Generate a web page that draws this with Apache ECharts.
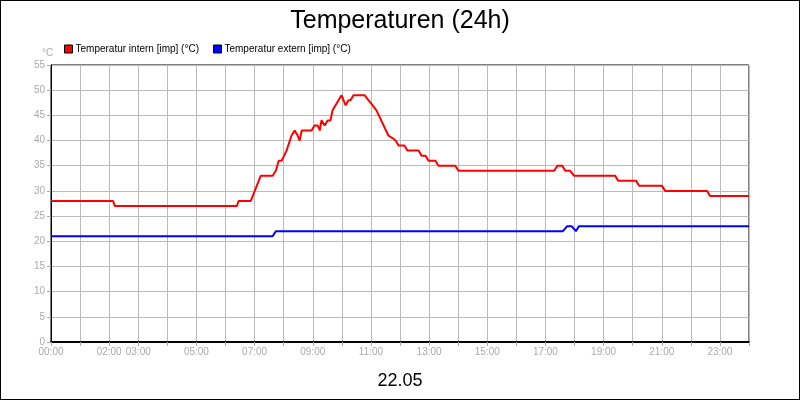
<!DOCTYPE html><html><head><meta charset="utf-8">
<script src="https://cdn.jsdelivr.net/npm/echarts@6/dist/echarts.min.js"></script>
<style>html,body{margin:0;padding:0}#c{width:800px;height:400px;box-sizing:border-box;border:1px solid #000}</style></head><body><div id="c"></div><script>
const hourLabels=[0,2,3,5,7,9,11,13,15,17,19,21,23];
const intern=[[0,28],[2.13,28],[2.2,27],[6.39,27],[6.45,28],[6.87,28],[7.21,33],[7.62,33],[7.73,34],[7.83,36],[7.93,36],[8.1,38],[8.27,41],[8.38,42],[8.48,41],[8.55,40],[8.62,42],[8.96,42],[9.06,43],[9.17,43],[9.24,42],[9.3,44],[9.41,43],[9.51,44],[9.61,44],[9.68,46],[9.99,49],[10.13,47],[10.23,48],[10.3,48],[10.4,49],[10.78,49],[10.92,48],[11.06,47],[11.19,46],[11.6,41],[11.74,40.5],[11.85,40],[11.95,39],[12.15,39],[12.26,38],[12.64,38],[12.74,37],[12.88,37],[12.98,36],[13.22,36],[13.32,35],[13.9,35],[14.01,34],[17.3,34],[17.41,35],[17.58,35],[17.68,34],[17.85,34],[17.99,33],[19.4,33],[19.5,32],[20.12,32],[20.22,31],[21.01,31],[21.12,30],[22.56,30],[22.66,29],[24,29]];
const extern=[[0,21],[7.62,21],[7.73,22],[17.6,22],[17.75,23],[17.9,23],[18.05,22],[18.15,23],[24,23]];
const c=echarts.init(document.getElementById('c'));
const gray='#aaa';
c.setOption({
 animation:false,
 title:[{text:'Temperaturen (24h)',left:'center',top:3,textStyle:{fontFamily:'Liberation Sans',fontSize:25,fontWeight:'normal',color:'#000'}},
  {text:'22.05',left:'center',top:366,textStyle:{fontFamily:'Liberation Sans',fontSize:18,fontWeight:'normal',color:'#000'}},
  {text:'°C',left:36,top:42,textStyle:{fontFamily:'Liberation Sans',fontSize:10,fontWeight:'normal',color:gray}}],
 legend:{left:58,top:38,itemWidth:8,itemHeight:8,itemGap:14,icon:'rect',textStyle:{fontFamily:'Liberation Sans',fontSize:10,color:'#000',padding:[0,0,0,-2]},
  data:[{name:'Temperatur intern [imp] (°C)',itemStyle:{borderColor:'#000',borderWidth:1}},{name:'Temperatur extern [imp] (°C)',itemStyle:{borderColor:'#000',borderWidth:1}}]},
 grid:{left:50,right:50,top:64,bottom:57,show:true,borderColor:'#000',borderWidth:1},
 xAxis:{type:'value',min:0,max:24,interval:1,
  axisLine:{lineStyle:{color:'#000',width:2}},axisTick:{lineStyle:{color:gray},length:4},
  splitLine:{lineStyle:{color:'#bbb'}},
  axisLabel:{color:gray,fontSize:10,fontFamily:'Liberation Sans',margin:5,showMaxLabel:true,
   formatter:v=>hourLabels.includes(v)?String(v).padStart(2,'0')+':00':''}},
 yAxis:{type:'value',min:0,max:55,interval:5,
  axisLine:{show:true,lineStyle:{color:'#000'}},axisTick:{show:true,lineStyle:{color:gray},length:4},
  splitLine:{lineStyle:{color:'#bbb'}},
  axisLabel:{color:gray,fontSize:10,fontFamily:'Liberation Sans',margin:6}},
 series:[{name:'Temperatur intern [imp] (°C)',type:'line',data:intern,showSymbol:false,color:'#f00',lineStyle:{width:2,color:'#f00'}},
  {name:'Temperatur extern [imp] (°C)',type:'line',data:extern,showSymbol:false,color:'#00f',lineStyle:{width:2,color:'#00f'}}]
});
</script></body></html>
